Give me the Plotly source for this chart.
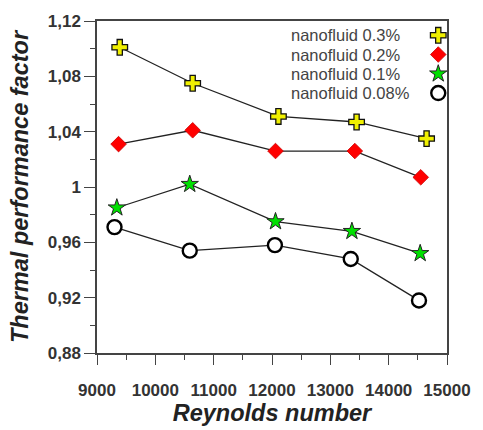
import plotly.graph_objects as go

# ---- data ----
re_03 = [9390, 10640, 12110, 13450, 14650]
tpf_03 = [1.101, 1.075, 1.051, 1.047, 1.035]

re_02 = [9370, 10640, 12060, 13420, 14550]
tpf_02 = [1.031, 1.041, 1.026, 1.026, 1.007]

re_01 = [9340, 10590, 12060, 13370, 14540]
tpf_01 = [0.985, 1.002, 0.975, 0.968, 0.952]

re_008 = [9300, 10590, 12050, 13350, 14520]
tpf_008 = [0.971, 0.954, 0.958, 0.948, 0.918]

series_names = ["nanofluid 0.3%", "nanofluid 0.2%", "nanofluid 0.1%", "nanofluid 0.08%"]

x_tickvals = [9000, 10000, 11000, 12000, 13000, 14000, 15000]
x_ticktext = ["9000", "10000", "11000", "12000", "13000", "14000", "15000"]
y_tickvals = [0.88, 0.92, 0.96, 1.0, 1.04, 1.08, 1.12]
y_ticktext = ["0,88", "0,92", "0,96", "1", "1,04", "1,08", "1,12"]

# ---- styles ----
styles = [
    dict(symbol="cross", size=13, color="#f0f000", line=dict(color="#111", width=1.3)),
    dict(symbol="diamond", size=12, color="#ff0000", line=dict(color="#cc0000", width=0.8)),
    dict(symbol="star", size=13, color="#00e000", line=dict(color="#222", width=1)),
    dict(symbol="circle", size=14, color="white", line=dict(color="#000", width=2.4)),
]

FONT = "Liberation Sans, Arial"

fig = go.Figure()
all_series = [(re_03, tpf_03), (re_02, tpf_02), (re_01, tpf_01), (re_008, tpf_008)]
for (xs, ys), st, name in zip(all_series, styles, series_names):
    fig.add_trace(go.Scatter(
        x=xs, y=ys, mode="lines+markers", name=name,
        line=dict(color="#222", width=1.3),
        marker=st, showlegend=False,
    ))

# ---- custom legend: text on the left, symbol on the right ----
leg_top = 0.957
leg_step = 0.058
for i, (st, name) in enumerate(zip(styles, series_names)):
    yy = leg_top - i * leg_step
    fig.add_trace(go.Scatter(
        x=[0.975], y=[yy], mode="markers", marker=st,
        xaxis="x2", yaxis="y2", showlegend=False, hoverinfo="skip",
    ))
    fig.add_annotation(
        x=0.548, y=yy, xref="paper", yref="paper", text=name,
        showarrow=False, xanchor="left", yanchor="middle",
        font=dict(family=FONT, size=16.5, color="#444"),
    )

axis_line = dict(showline=True, linecolor="#444", linewidth=1.5, mirror=True,
                 ticks="outside", tickcolor="#444", tickwidth=1.3,
                 showgrid=False, zeroline=False)

fig.update_layout(
    width=483, height=430,
    margin=dict(l=97, r=27, t=18, b=77),
    plot_bgcolor="white", paper_bgcolor="white",
    xaxis=dict(range=[9000, 15000], tickvals=x_tickvals, ticktext=x_ticktext,
               ticklen=10, ticklabelstandoff=11,
               minor=dict(dtick=500, ticklen=5, ticks="outside", tickcolor="#444"),
               tickfont=dict(family=FONT, size=17, color="#333", weight="bold"),
               title=dict(text="<b><i>Reynolds number</i></b>",
                          font=dict(family=FONT, size=23.5, color="#222"),
                          standoff=1),
               **axis_line),
    yaxis=dict(range=[0.88, 1.12], tickvals=y_tickvals, ticktext=y_ticktext,
               ticklen=11,
               minor=dict(dtick=0.02, ticklen=5, ticks="outside", tickcolor="#444"),
               tickfont=dict(family=FONT, size=17, color="#333", weight="bold"),
               title=dict(text="<b><i>Thermal performance factor</i></b>",
                          font=dict(family=FONT, size=23.5, color="#222"),
                          standoff=13),
               **axis_line),
    xaxis2=dict(range=[0, 1], domain=[0, 1], overlaying="x", visible=False, fixedrange=True),
    yaxis2=dict(range=[0, 1], domain=[0, 1], overlaying="y", visible=False, fixedrange=True),
)

fig.write_html("out.html")
